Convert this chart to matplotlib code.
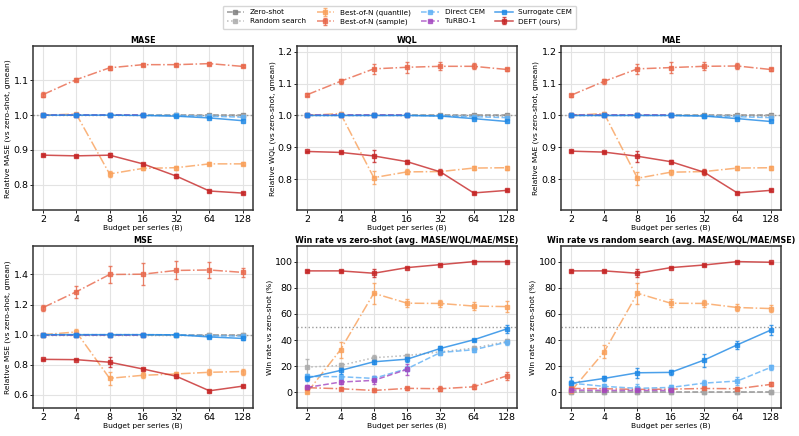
""" Budget scaling of the search methods

    Relative error (vs zero-shot) and win rates for each budget per series
"""
import numpy as np
import matplotlib
matplotlib.use("Agg")
import matplotlib.pyplot as plt

# ------------
# Prepare data
# ------------
budgets = [2, 4, 8, 16, 32, 64, 128]
turbo_budgets = [2, 4, 8, 16]

# relative MASE
zs_mase = [1.0, 1.0, 1.0, 1.0, 1.0, 1.0, 1.0]
rs_mase = [1.0, 1.0, 1.0, 1.0, 0.999, 0.998, 0.997]
bq_mase = [1.0, 1.003, 0.831, 0.847, 0.849, 0.860, 0.860]
bq_mase_err = [0.002, 0.003, 0.008, 0.005, 0.006, 0.004, 0.004]
bs_mase = [1.059, 1.102, 1.136, 1.145, 1.145, 1.148, 1.140]
bs_mase_err = [0.007, 0.005, 0.006, 0.005, 0.004, 0.004, 0.003]
dc_mase = [1.0, 1.0, 1.0, 1.0, 0.999, 0.997, 0.994]
tb_mase = [1.0, 1.0, 1.0, 1.0]
sc_mase = [1.0, 1.0, 1.0, 0.999, 0.997, 0.992, 0.984]
deft_mase = [0.885, 0.883, 0.885, 0.860, 0.825, 0.782, 0.776]
deft_mase_err = [0.003, 0.002, 0.006, 0.003, 0.007, 0.003, 0.002]

# relative WQL
zs_wql = [1.0, 1.0, 1.0, 1.0, 1.0, 1.0, 1.0]
rs_wql = [1.0, 1.0, 1.0, 1.0, 0.999, 0.998, 0.997]
bq_wql = [1.0, 1.006, 0.805, 0.823, 0.824, 0.835, 0.836]
bq_wql_err = [0.002, 0.004, 0.020, 0.008, 0.006, 0.007, 0.006]
bs_wql = [1.065, 1.107, 1.146, 1.151, 1.154, 1.154, 1.144]
bs_wql_err = [0.004, 0.008, 0.015, 0.017, 0.012, 0.010, 0.005]
dc_wql = [1.0, 1.0, 1.0, 1.0, 0.999, 0.996, 0.993]
tb_wql = [1.0, 1.0, 1.0, 1.0]
sc_wql = [1.0, 1.0, 1.0, 1.0, 0.998, 0.990, 0.981]
deft_wql = [0.887, 0.884, 0.873, 0.855, 0.823, 0.757, 0.765]
deft_wql_err = [0.003, 0.003, 0.018, 0.004, 0.010, 0.003, 0.003]

# relative MAE
zs_mae = [1.0, 1.0, 1.0, 1.0, 1.0, 1.0, 1.0]
rs_mae = [1.0, 1.0, 1.0, 1.0, 0.999, 0.998, 0.997]
bq_mae = [1.0, 1.006, 0.803, 0.822, 0.824, 0.835, 0.836]
bq_mae_err = [0.002, 0.004, 0.020, 0.008, 0.006, 0.007, 0.006]
bs_mae = [1.063, 1.107, 1.146, 1.150, 1.154, 1.155, 1.144]
bs_mae_err = [0.004, 0.008, 0.015, 0.017, 0.012, 0.010, 0.005]
dc_mae = [1.0, 1.0, 1.0, 1.0, 0.999, 0.996, 0.993]
tb_mae = [1.0, 1.0, 1.0, 1.0]
sc_mae = [1.0, 1.0, 1.0, 1.0, 0.998, 0.990, 0.981]
deft_mae = [0.888, 0.885, 0.872, 0.855, 0.822, 0.757, 0.765]
deft_mae_err = [0.003, 0.003, 0.018, 0.004, 0.010, 0.003, 0.003]

# relative MSE
zs_mse = [1.0, 1.0, 1.0, 1.0, 1.0, 1.0, 1.0]
rs_mse = [1.0, 1.0, 1.0, 1.0, 0.999, 0.998, 0.997]
bq_mse = [1.0, 1.018, 0.710, 0.730, 0.739, 0.750, 0.755]
bq_mse_err = [0.005, 0.020, 0.045, 0.020, 0.015, 0.020, 0.020]
bs_mse = [1.180, 1.285, 1.400, 1.402, 1.427, 1.430, 1.414]
bs_mse_err = [0.020, 0.040, 0.055, 0.075, 0.060, 0.055, 0.030]
dc_mse = [1.0, 1.0, 1.0, 1.0, 0.999, 0.993, 0.990]
tb_mse = [1.0, 1.0, 1.0, 1.0]
sc_mse = [1.0, 1.0, 1.0, 1.0, 0.999, 0.985, 0.975]
sc_mse_err = [0.003, 0.003, 0.003, 0.003, 0.004, 0.010, 0.012]
deft_mse = [0.836, 0.834, 0.817, 0.772, 0.724, 0.627, 0.658]
deft_mse_err = [0.005, 0.005, 0.035, 0.008, 0.012, 0.006, 0.005]

# win rate vs zero-shot (%)
rs_win0 = [19.3, 20.6, 26.5, 28.2, 31.0, 33.8, 39.0]
rs_win0_err = [6, 2, 2, 1.5, 1.5, 1.5, 2]
bq_win0 = [0.0, 32.6, 75.8, 68.2, 68.0, 66.0, 65.6]
bq_win0_err = [0.5, 6, 8, 3, 3, 3, 4]
bs_win0 = [3.6, 2.8, 1.5, 3.1, 2.8, 4.3, 12.7]
bs_win0_err = [1, 1, 1, 1, 2, 2, 3]
dc_win0 = [12.2, 12.0, 10.7, 18.1, 30.5, 32.6, 38.4]
dc_win0_err = [2, 2, 2, 2, 2, 2, 2]
tb_win0 = [3.8, 7.9, 9.2, 17.6]
tb_win0_err = [1.5, 1.5, 3, 4]
sc_win0 = [11.0, 16.8, 23.4, 25.4, 33.6, 40.2, 48.6]
sc_win0_err = [2, 3, 2, 2, 2, 1, 3]
deft_win0 = [92.9, 92.9, 91.1, 95.4, 97.7, 100.0, 100.0]
deft_win0_err = [0.5, 0.5, 3, 0.5, 0.5, 0.3, 0.3]

# win rate vs random search (%)
zs_winr = [0.0, 0.0, 0.0, 0.0, 0.0, 0.0, 0.0]
rs_winr = [0.0, 0.0, 0.0, 0.0, 0.0, 0.0, 0.0]
bq_winr = [0.8, 31.0, 75.8, 68.2, 68.0, 64.9, 64.1]
bq_winr_err = [0.5, 5, 8, 3, 3, 3, 3]
bs_winr = [3.0, 2.8, 2.3, 2.5, 3.0, 2.8, 6.1]
bs_winr_err = [1, 1, 1, 1, 1, 1, 1.5]
dc_winr = [7.1, 4.6, 3.1, 3.8, 7.1, 8.7, 19.1]
dc_winr_err = [2, 2, 3, 2, 2, 3, 2]
tb_winr = [1.8, 1.5, 1.5, 1.5]
tb_winr_err = [1, 1, 1, 1]
sc_winr = [6.9, 10.7, 15.0, 15.3, 24.7, 36.4, 47.6]
sc_winr_err = [5, 2, 4, 2, 5, 3, 4]
deft_winr = [92.9, 92.9, 91.1, 95.4, 97.4, 100.0, 99.5]
deft_winr_err = [0.5, 0.5, 3, 0.5, 0.5, 0.3, 0.5]

# ------------
# Method style
# ------------
styles = {
    "Zero-shot": dict(color="#7f7f7f", ls="--"),
    "Random search": dict(color="#ababab", ls=":"),
    "Best-of-N (quantile)": dict(color="#f9a05a", ls="-."),
    "Best-of-N (sample)": dict(color="#e8674a", ls="-."),
    "Direct CEM": dict(color="#5fb0f5", ls="--"),
    "TuRBO-1": dict(color="#a347c0", ls="--"),
    "Surrogate CEM": dict(color="#1e88e5", ls="-"),
    "DEFT (ours)": dict(color="#c62828", ls="-"),
}

plt.rcParams["font.family"] = "DejaVu Sans"

fig = plt.figure(figsize=(7.99, 4.36), dpi=100)
col_left = [0.0413, 0.372, 0.702]
ax_w = 0.275


def draw(ax, name, x, y, err=None):
    st = styles[name]
    ax.errorbar(x, y, yerr=err, color=st["color"], ls=st["ls"], lw=1.1,
                marker="s", ms=2.4, elinewidth=0.9, capsize=1.6,
                alpha=0.8, label=name)


def setup(ax, title, ylabel, ylim, yticks, fmt):
    ax.set_xscale("log", base=2)
    ax.set_xticks(budgets)
    ax.set_xticklabels([str(b) for b in budgets])
    ax.minorticks_off()
    ax.set_xlim(2 / 2 ** 0.3, 128 * 2 ** 0.3)
    ax.set_ylim(ylim)
    ax.set_yticks(yticks)
    ax.set_yticklabels([fmt.format(t) for t in yticks])
    ax.tick_params(labelsize=6.8, length=2.0, width=0.6, pad=1.2)
    ax.grid(True, color="#e3e3e3", linewidth=0.8)
    ax.set_axisbelow(True)
    ax.set_title(title, fontsize=5.8, fontweight="bold", pad=2)
    ax.set_ylabel(ylabel, fontsize=5.4, labelpad=1.5)
    ax.set_xlabel("Budget per series (B)", fontsize=5.4, labelpad=0.5)
    for sp in ax.spines.values():
        sp.set_color("#333333")
        sp.set_linewidth(1.1)


# ------------------
# Relative error panels
# ------------------
rel_panels = [
    ("MASE", 0, 0, (0.727, 1.198), [0.8, 0.9, 1.0, 1.1], "{:.1f}",
     rs_mase, bq_mase, bq_mase_err, bs_mase, bs_mase_err, dc_mase, tb_mase,
     sc_mase, None, deft_mase, deft_mase_err),
    ("WQL", 1, 0, (0.703, 1.217), [0.8, 0.9, 1.0, 1.1, 1.2], "{:.1f}",
     rs_wql, bq_wql, bq_wql_err, bs_wql, bs_wql_err, dc_wql, tb_wql,
     sc_wql, None, deft_wql, deft_wql_err),
    ("MAE", 2, 0, (0.703, 1.217), [0.8, 0.9, 1.0, 1.1, 1.2], "{:.1f}",
     rs_mae, bq_mae, bq_mae_err, bs_mae, bs_mae_err, dc_mae, tb_mae,
     sc_mae, None, deft_mae, deft_mae_err),
    ("MSE", 0, 1, (0.512, 1.59), [0.6, 0.8, 1.0, 1.2, 1.4], "{:.1f}",
     rs_mse, bq_mse, bq_mse_err, bs_mse, bs_mse_err, dc_mse, tb_mse,
     sc_mse, sc_mse_err, deft_mse, deft_mse_err),
]

row_bottom = [0.518, 0.064]
row_h = [0.376, 0.372]

for (metric, c, r, ylim, yticks, fmt, rs, bq, bq_e, bs, bs_e, dc, tb,
     sc, sc_e, deft, deft_e) in rel_panels:
    ax = fig.add_axes([col_left[c], row_bottom[r], ax_w, row_h[r]])
    ax.axhline(1.0, color="#9a9a9a", ls=":", lw=1.0)
    draw(ax, "Zero-shot", budgets, [1.0] * len(budgets))
    draw(ax, "Random search", budgets, rs)
    draw(ax, "Best-of-N (quantile)", budgets, bq, bq_e)
    draw(ax, "Best-of-N (sample)", budgets, bs, bs_e)
    draw(ax, "Direct CEM", budgets, dc)
    draw(ax, "TuRBO-1", turbo_budgets, tb)
    draw(ax, "Surrogate CEM", budgets, sc, sc_e)
    draw(ax, "DEFT (ours)", budgets, deft, deft_e)
    setup(ax, metric, f"Relative {metric} (vs zero-shot, gmean)", ylim, yticks, fmt)
    if metric == "MASE":
        legend_ax = ax

# ---------------
# Win rate panels
# ---------------
win_ticks = [0, 20, 40, 60, 80, 100]

ax = fig.add_axes([col_left[1], row_bottom[1], ax_w, row_h[1]])
ax.axhline(50, color="#9a9a9a", ls=":", lw=1.0)
draw(ax, "Random search", budgets, rs_win0, rs_win0_err)
draw(ax, "Best-of-N (quantile)", budgets, bq_win0, bq_win0_err)
draw(ax, "Best-of-N (sample)", budgets, bs_win0, bs_win0_err)
draw(ax, "Direct CEM", budgets, dc_win0, dc_win0_err)
draw(ax, "TuRBO-1", turbo_budgets, tb_win0, tb_win0_err)
draw(ax, "Surrogate CEM", budgets, sc_win0, sc_win0_err)
draw(ax, "DEFT (ours)", budgets, deft_win0, deft_win0_err)
setup(ax, "Win rate vs zero-shot (avg. MASE/WQL/MAE/MSE)",
      "Win rate vs zero-shot (%)", (-12, 112), win_ticks, "{:d}")

ax = fig.add_axes([col_left[2], row_bottom[1], ax_w, row_h[1]])
ax.axhline(50, color="#9a9a9a", ls=":", lw=1.0)
draw(ax, "Zero-shot", budgets, zs_winr)
draw(ax, "Random search", budgets, rs_winr)
draw(ax, "Best-of-N (quantile)", budgets, bq_winr, bq_winr_err)
draw(ax, "Best-of-N (sample)", budgets, bs_winr, bs_winr_err)
draw(ax, "Direct CEM", budgets, dc_winr, dc_winr_err)
draw(ax, "TuRBO-1", turbo_budgets, tb_winr, tb_winr_err)
draw(ax, "Surrogate CEM", budgets, sc_winr, sc_winr_err)
draw(ax, "DEFT (ours)", budgets, deft_winr, deft_winr_err)
setup(ax, "Win rate vs random search (avg. MASE/WQL/MAE/MSE)",
      "Win rate vs zero-shot (%)", (-12, 112), win_ticks, "{:d}")

# ------
# Legend
# ------
handles, labels = legend_ax.get_legend_handles_labels()
fig.legend(handles, labels, loc="upper center", bbox_to_anchor=(0.5, 0.995),
           ncol=4, fontsize=5.2, frameon=True, edgecolor="#cccccc",
           handlelength=2.4, columnspacing=1.5, borderpad=0.5,
           labelspacing=0.4)

fig.savefig("out.png", dpi=100)
